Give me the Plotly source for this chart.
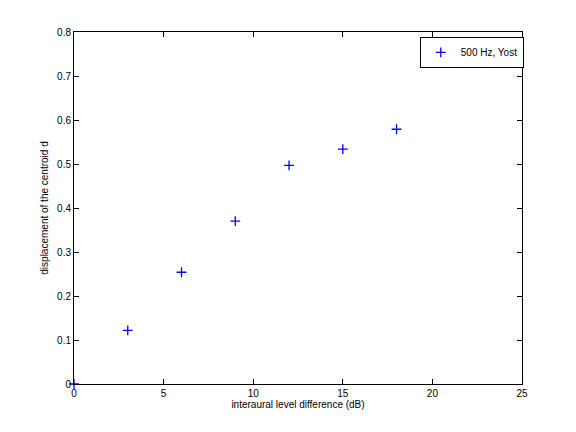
import plotly.graph_objects as go

ild_db = [0, 3, 6, 9, 12, 15, 18]
displacement = [0.0, 0.122, 0.254, 0.370, 0.497, 0.534, 0.579]
series_name = "500 Hz, Yost"
x_ticks = [0, 5, 10, 15, 20, 25]
y_ticks = [0, 0.1, 0.2, 0.3, 0.4, 0.5, 0.6, 0.7, 0.8]
y_tick_labels = ["0", "0.1", "0.2", "0.3", "0.4", "0.5", "0.6", "0.7", "0.8"]

FONT = "Liberation Sans, Arial"

fig = go.Figure()
fig.add_trace(go.Scatter(
    x=ild_db, y=displacement, mode="markers", name=series_name,
    marker=dict(symbol="cross-thin", size=7, color="blue",
                line=dict(color="blue", width=1.3)),
    cliponaxis=False,
))

axis_common = dict(
    showline=True, linecolor="black", linewidth=1, mirror="ticks",
    ticks="inside", ticklen=5, tickcolor="black", showgrid=False,
    zeroline=False, tickfont=dict(family=FONT, size=10, color="black"),
)
fig.update_xaxes(range=[0, 25], tickvals=x_ticks,
                 title=dict(text="interaural level difference (dB)",
                            font=dict(family=FONT, size=10, color="black"),
                            standoff=2),
                 **axis_common)
fig.update_yaxes(range=[0, 0.8], tickvals=y_ticks, ticktext=y_tick_labels,
                 title=dict(text="displacement of the centroid d",
                            font=dict(family=FONT, size=10, color="black"),
                            standoff=6),
                 **axis_common)

fig.update_layout(
    width=576, height=432,
    margin=dict(l=66, r=62, t=24, b=56),
    paper_bgcolor="white", plot_bgcolor="white",
    showlegend=True,
    legend=dict(x=1.004, y=0.986, xanchor="right", yanchor="top",
                bordercolor="black", borderwidth=1, bgcolor="white",
                font=dict(family=FONT, size=10, color="black"),
                itemwidth=30, tracegroupgap=0),
)

fig.write_html("out.html")
